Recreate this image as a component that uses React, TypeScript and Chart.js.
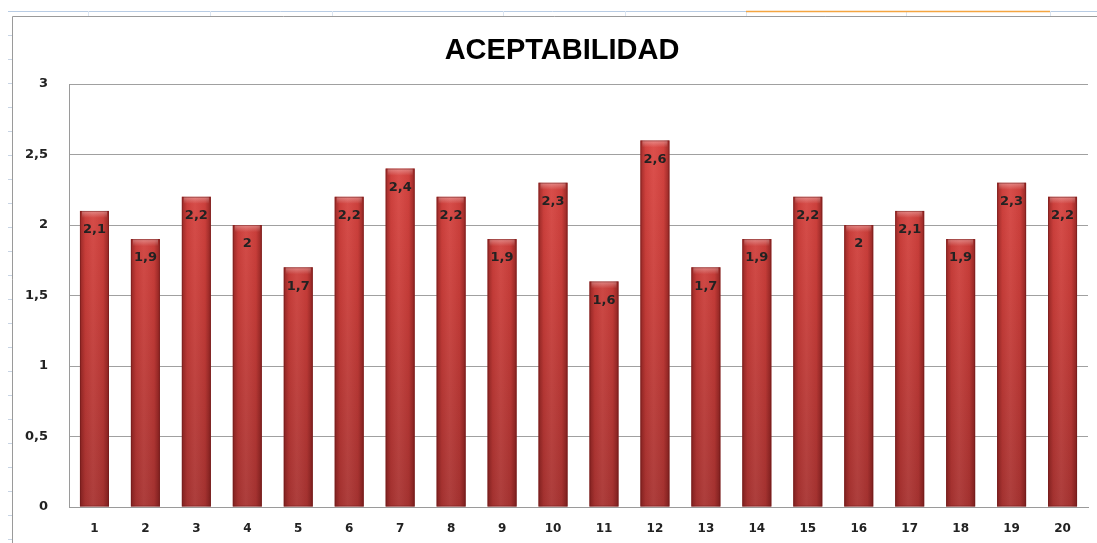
import React, { useEffect, useRef } from "react";
import { Chart, registerables } from "chart.js";

Chart.register(...registerables);

const categories = ["1","2","3","4","5","6","7","8","9","10","11","12","13","14","15","16","17","18","19","20"];
const values = [2.1, 1.9, 2.2, 2, 1.7, 2.2, 2.4, 2.2, 1.9, 2.3, 1.6, 2.6, 1.7, 1.9, 2.2, 2, 2.1, 1.9, 2.3, 2.2];
const yTicks = [0, 0.5, 1, 1.5, 2, 2.5, 3];
const titleText = "ACEPTABILIDAD";

const fmt = (v: number) => String(v).replace(".", ",");

const framePlugin = {
  id: "frame",
  beforeDraw(chart: any) {
    const ctx = chart.ctx;
    const w = chart.width;
    const h = chart.height;
    ctx.save();
    ctx.fillStyle = "#ffffff";
    ctx.fillRect(0, 0, w, h);
    ctx.strokeStyle = "#b8cce4";
    ctx.lineWidth = 1;
    ctx.beginPath();
    ctx.moveTo(8, 11.5);
    ctx.lineTo(w, 11.5);
    ctx.stroke();
    ctx.strokeStyle = "#dbe5f1";
    [88, 210, 332, 503, 625, 746, 906, 1050].forEach((x) => {
      ctx.beginPath();
      ctx.moveTo(x + 0.5, 11);
      ctx.lineTo(x + 0.5, 16);
      ctx.stroke();
    });
    ctx.strokeStyle = "#f4a540";
    ctx.lineWidth = 1.5;
    ctx.beginPath();
    ctx.moveTo(746, 11.5);
    ctx.lineTo(1050, 11.5);
    ctx.stroke();
    ctx.strokeStyle = "#c8d4e4";
    ctx.lineWidth = 1;
    for (let y = 35; y < h; y += 24) {
      ctx.beginPath();
      ctx.moveTo(8, y + 0.5);
      ctx.lineTo(12, y + 0.5);
      ctx.stroke();
    }
    ctx.strokeStyle = "#9a9a9a";
    ctx.beginPath();
    ctx.moveTo(12.5, h);
    ctx.lineTo(12.5, 16.5);
    ctx.lineTo(w, 16.5);
    ctx.stroke();
    ctx.restore();
  },
  afterDraw(chart: any) {
    const ctx = chart.ctx;
    ctx.save();
    ctx.fillStyle = "#000000";
    ctx.font = "bold 29px 'Liberation Sans'";
    ctx.textAlign = "center";
    ctx.textBaseline = "alphabetic";
    ctx.fillText(titleText, 562, 59);
    ctx.restore();
  },
};

const barShadePlugin = {
  id: "barShade",
  afterDatasetsDraw(chart: any) {
    const ctx = chart.ctx;
    const meta = chart.getDatasetMeta(0);
    ctx.save();
    meta.data.forEach((bar: any, i: number) => {
      const { x, y, base, width } = bar.getProps(["x", "y", "base", "width"], true);
      const left = x - width / 2;
      const g = ctx.createLinearGradient(left, 0, left + width, 0);
      g.addColorStop(0, "rgba(60,0,0,0.38)");
      g.addColorStop(0.18, "rgba(60,0,0,0.06)");
      g.addColorStop(0.45, "rgba(255,255,255,0.05)");
      g.addColorStop(0.8, "rgba(60,0,0,0.06)");
      g.addColorStop(1, "rgba(60,0,0,0.42)");
      ctx.fillStyle = g;
      ctx.fillRect(left, y, width, base - y);
      const cap = ctx.createLinearGradient(0, y, 0, y + 7);
      cap.addColorStop(0, "rgba(255,255,255,0.35)");
      cap.addColorStop(1, "rgba(255,255,255,0)");
      ctx.fillStyle = cap;
      ctx.fillRect(left + 2, y, width - 4, 7);
      ctx.strokeStyle = "rgba(110,25,25,0.5)";
      ctx.lineWidth = 1;
      ctx.strokeRect(left + 0.5, y + 0.5, width - 1, base - y - 1);
      ctx.fillStyle = "#222222";
      ctx.font = "bold 13px 'DejaVu Sans'";
      ctx.textAlign = "center";
      ctx.textBaseline = "middle";
      ctx.fillText(fmt(values[i]), x, y + 19);
    });
    ctx.restore();
  },
};

export default function App() {
  const ref = useRef<HTMLCanvasElement | null>(null);
  useEffect(() => {
    document.body.style.margin = "0";
    const canvas = ref.current!;
    const chart = new Chart(canvas, {
      type: "bar",
      data: {
        labels: categories,
        datasets: [
          {
            data: values,
            backgroundColor: (c: any) => {
              const area = c.chart.chartArea;
              if (!area) return "#c83c38";
              const g = c.chart.ctx.createLinearGradient(0, area.top, 0, area.bottom);
              g.addColorStop(0, "#e24a46");
              g.addColorStop(0.5, "#c93e3a");
              g.addColorStop(1, "#a83432");
              return g;
            },
            borderWidth: 0,
            categoryPercentage: 1,
            barPercentage: 0.57,
          },
        ],
      },
      options: {
        animation: false,
        responsive: false,
        maintainAspectRatio: false,
        layout: { padding: { left: 10, right: 9, top: 84, bottom: 0 } },
        plugins: {
          legend: { display: false },
          tooltip: { enabled: false },
          title: { display: false },
        },
        scales: {
          x: {
            grid: { display: false, drawTicks: false },
            border: { display: true, color: "#9a9a9a", width: 1 },
            ticks: {
              color: "#222222",
              font: { family: "'DejaVu Sans'", size: 12, weight: "bold" },
              padding: 15,
              maxRotation: 0,
            },
            afterFit: (s: any) => {
              s.height = 36;
            },
          },
          y: {
            min: 0,
            max: 3,
            afterBuildTicks: (s: any) => {
              s.ticks = yTicks.map((v) => ({ value: v }));
            },
            grid: { color: "#a0a0a0", lineWidth: 1, drawTicks: false },
            border: { display: true, color: "#9a9a9a", width: 1 },
            ticks: {
              color: "#222222",
              font: { family: "'DejaVu Sans'", size: 13, weight: "bold" },
              padding: 21,
              callback: (v: any) => fmt(Number(v)),
            },
            afterFit: (s: any) => {
              s.width = 59;
            },
          },
        },
      },
      plugins: [framePlugin, barShadePlugin],
    });
    return () => chart.destroy();
  }, []);
  return <canvas ref={ref} width={1097} height={543} style={{ display: "block" }} />;
}
